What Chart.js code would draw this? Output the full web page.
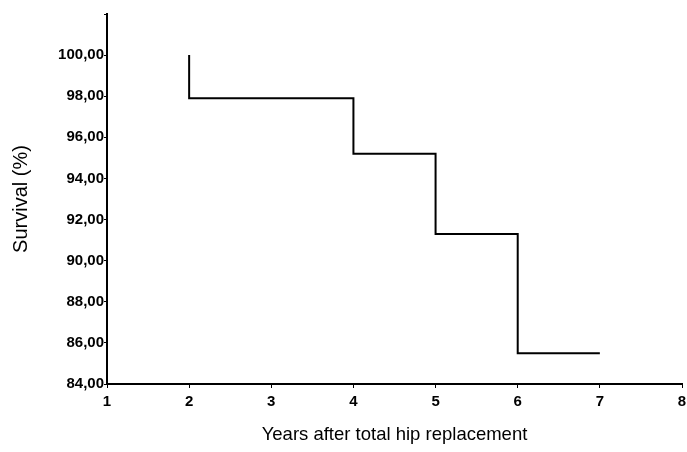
<!DOCTYPE html>
<html lang="en">
<head>
  <meta charset="UTF-8" />
  <title>Survival after total hip replacement</title>
  <script src="https://cdn.jsdelivr.net/npm/chart.js"></script>
  <style>
    html, body { margin: 0; padding: 0; background: #fff; }
  </style>
</head>
<body>
  <canvas id="survivalChart" width="687" height="452"></canvas>

  <script>
    // step curve: each point drawn horizontal-then-vertical
    const years = [2, 2, 4, 5, 6, 7];
    const survival = [100, 97.9, 95.2, 91.3, 85.5, 85.5];
    const xTicks = [1, 2, 3, 4, 5, 6, 7, 8];
    const yTicks = [84, 86, 88, 90, 92, 94, 96, 98, 100, 102];

    const fmt = (v) => v.toFixed(2).replace('.', ',');
    const font = 'Arial, "Liberation Sans", Helvetica, sans-serif';

    new Chart(document.getElementById('survivalChart'), {
      type: 'line',
      data: {
        datasets: [{
          data: years.map((x, i) => ({ x: x, y: survival[i] })),
          borderColor: '#000',
          borderWidth: 2,
          pointRadius: 0,
          stepped: 'before',
          fill: false
        }]
      },
      options: {
        responsive: false,
        animation: false,
        layout: { padding: { top: 14, right: 1, bottom: 0, left: 0 } },
        plugins: { legend: { display: false }, tooltip: { enabled: false } },
        scales: {
          x: {
            type: 'linear',
            min: 1,
            max: 8,
            afterBuildTicks: (axis) => { axis.ticks = xTicks.map(v => ({ value: v })); },
            ticks: {
              color: '#000',
              font: { family: font, size: 15, weight: 'bold' },
              padding: 5,
              autoSkip: false,
              maxRotation: 0
            },
            grid: { drawOnChartArea: false, color: '#000', tickLength: 4 },
            border: { color: '#000', width: 2 },
            title: {
              display: true,
              text: 'Years after total hip replacement',
              color: '#000',
              font: { family: font, size: 18.5 },
              padding: { top: 10, bottom: 6 }
            },
            afterFit: (axis) => {
              axis.height = 68;
              axis.paddingLeft = 0;
              axis.paddingRight = 5;
            }
          },
          y: {
            min: 84,
            max: 102,
            afterBuildTicks: (axis) => { axis.ticks = yTicks.map(v => ({ value: v })); },
            ticks: {
              color: '#000',
              font: { family: font, size: 15, weight: 'bold' },
              padding: 0,
              autoSkip: false,
              callback: (v) => v > 100 ? '' : fmt(v)
            },
            grid: { drawOnChartArea: false, color: '#000', tickLength: 3 },
            border: { color: '#000', width: 2 },
            title: {
              display: true,
              text: 'Survival (%)',
              color: '#000',
              font: { family: font, size: 20 },
              padding: { top: 9, bottom: 14 }
            },
            afterFit: (axis) => { axis.width = 107; }
          }
        }
      }
    });
  </script>
</body>
</html>
